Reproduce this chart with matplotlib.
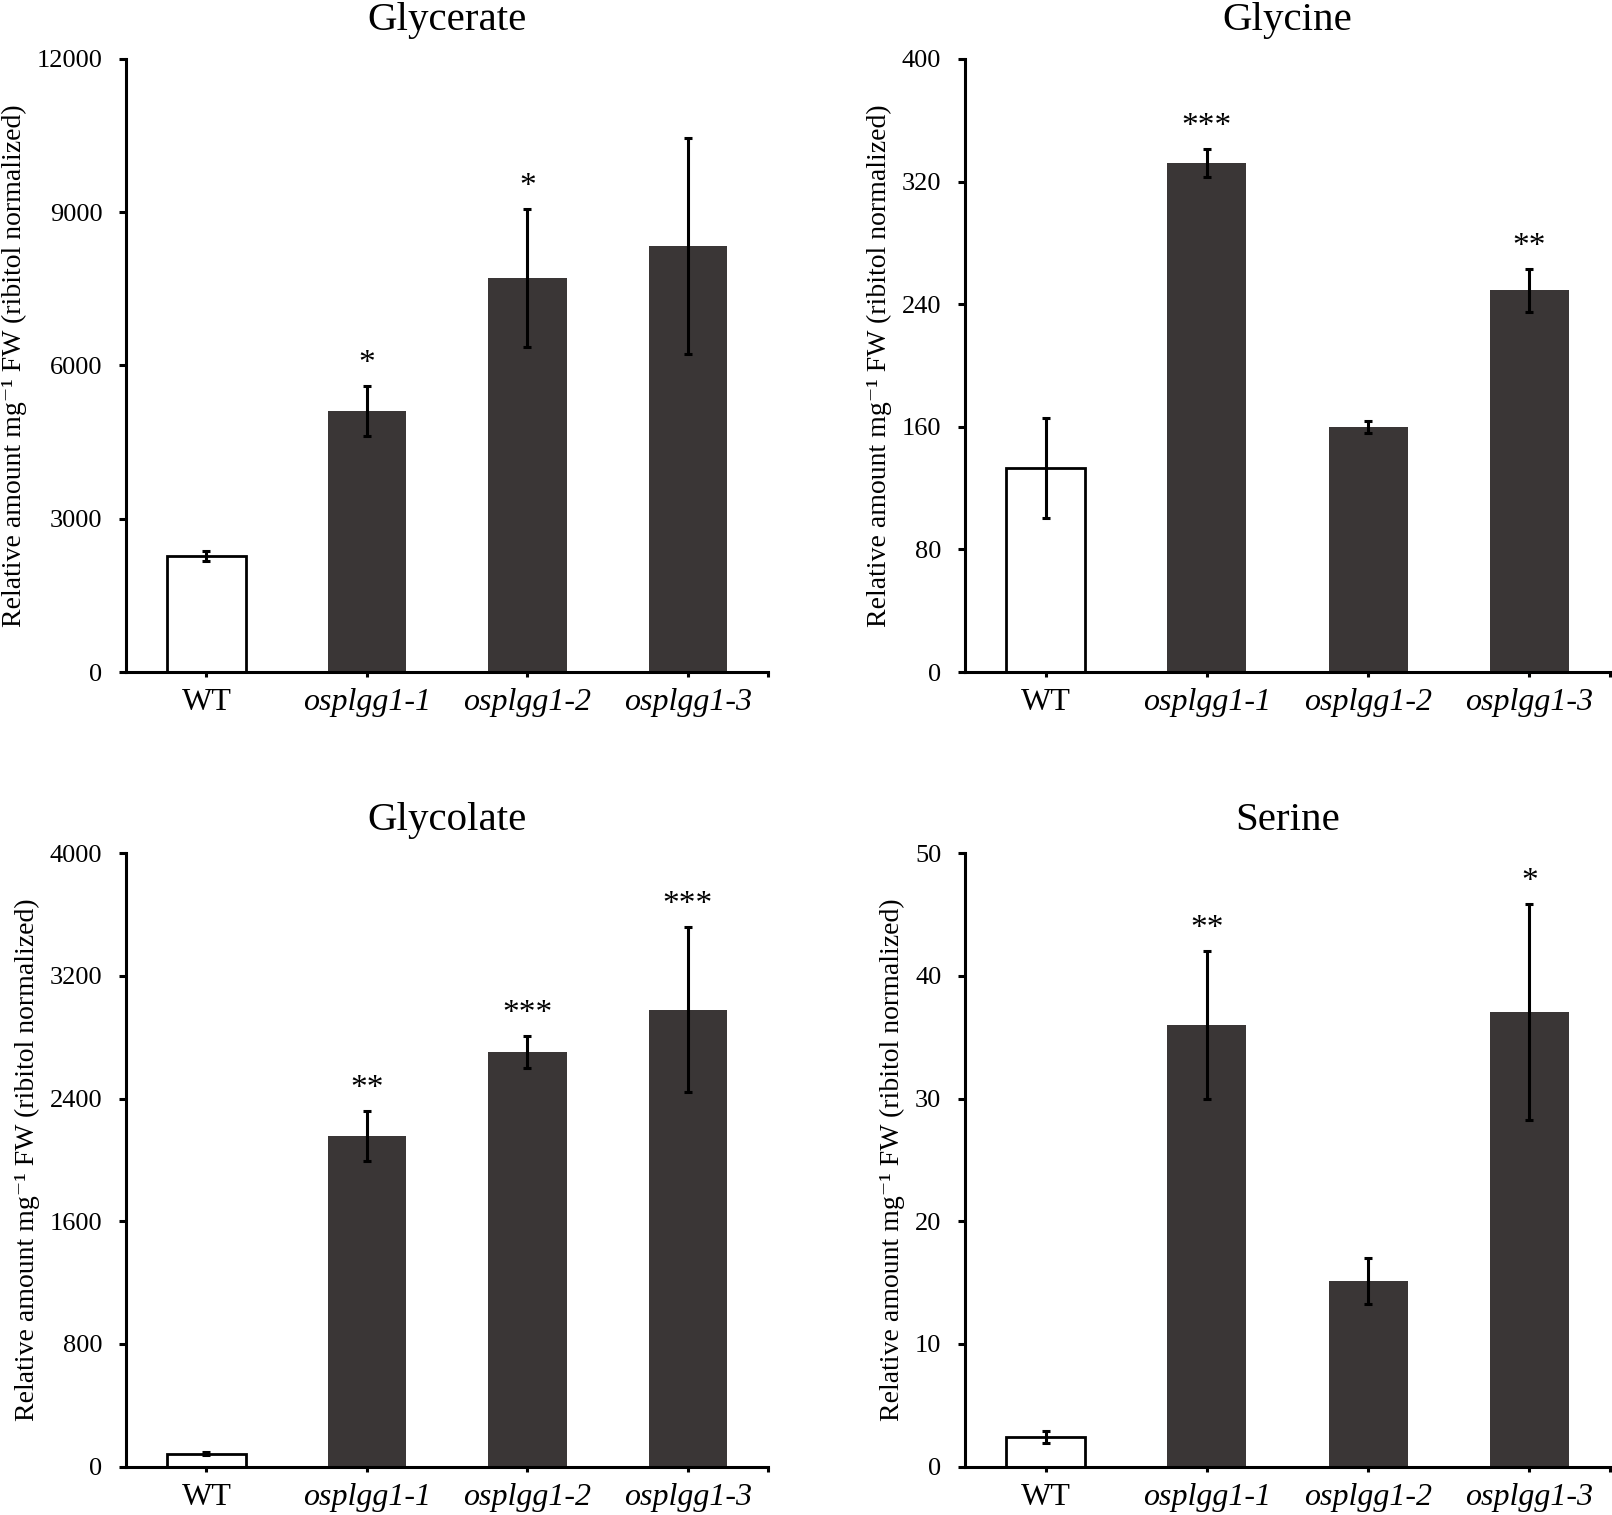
import matplotlib
matplotlib.use('Agg')
import matplotlib.pyplot as plt

plt.rcParams['font.family'] = ['Liberation Serif', 'DejaVu Serif']

genotypes = ['WT', 'osplgg1-1', 'osplgg1-2', 'osplgg1-3']

glycerate = [2270, 5110, 7710, 8340]
glycerate_err = [100, 485, 1350, 2120]
glycerate_sig = ['', '*', '*', '']

glycine = [133, 332, 160, 249]
glycine_err = [32.5, 9.3, 4, 13.8]
glycine_sig = ['', '***', '', '**']

glycolate = [85, 2155, 2705, 2980]
glycolate_err = [8, 165, 105, 540]
glycolate_sig = ['', '**', '***', '***']

serine = [2.4, 36.0, 15.15, 37.05]
serine_err = [0.47, 6.05, 1.87, 8.8]
serine_sig = ['', '**', '', '*']

panels = [
    ('Glycerate', glycerate, glycerate_err, glycerate_sig, 12000, 3000),
    ('Glycine', glycine, glycine_err, glycine_sig, 400, 80),
    ('Glycolate', glycolate, glycolate_err, glycolate_sig, 4000, 800),
    ('Serine', serine, serine_err, serine_sig, 50, 10),
]

# axes boxes in figure fractions [left, bottom, width, height]
boxes = [
    [0.0782, 0.5564, 0.3983, 0.4047],
    [0.5986, 0.5564, 0.4001, 0.4047],
    [0.0782, 0.0319, 0.3983, 0.4050],
    [0.5986, 0.0319, 0.4001, 0.4050],
]
title_pads = [21, 21, 16.5, 16.5]

dark = '#3a3636'
fig = plt.figure(figsize=(16.12, 15.15), dpi=100)

for (name, vals, errs, sig, ymax, step), box, tpad in zip(panels, boxes, title_pads):
    ax = fig.add_axes(box)
    x = list(range(len(genotypes)))
    colors = ['white'] + [dark] * 3
    edges = ['black'] + [dark] * 3
    ax.bar(x, vals, width=0.49, color=colors, edgecolor=edges,
           linewidth=[2.0, 0, 0, 0], zorder=2)
    ax.errorbar(x, vals, yerr=errs, fmt='none', ecolor='black',
                elinewidth=2.2, capsize=3, capthick=2.2, zorder=3)
    for xi, v, e, s in zip(x, vals, errs, sig):
        if s:
            ax.annotate(s, (xi, v + e), xytext=(0, 10), textcoords='offset points',
                        ha='center', va='baseline', fontsize=24)
    ax.set_xlim(-0.5, 3.5)
    ax.set_ylim(0, ymax)
    ax.set_yticks(range(0, ymax + 1, step))
    ax.set_xticks(x)
    ax.set_xticks([3.5], minor=True)
    ax.set_xticklabels(genotypes, fontsize=23)
    for lab in ax.get_xticklabels()[1:]:
        lab.set_style('italic')
    ax.tick_params(axis='y', labelsize=19, width=2.2, length=5, pad=12)
    ax.tick_params(axis='x', which='both', width=2.2, length=3.5, pad=8)
    for sp in ['top', 'right']:
        ax.spines[sp].set_visible(False)
    for sp in ['left', 'bottom']:
        ax.spines[sp].set_linewidth(2.2)
    ax.set_ylabel('Relative amount mg⁻¹ FW (ribitol normalized)', fontsize=20, labelpad=7)
    ax.set_title(name, fontsize=29.5, pad=tpad)

fig.savefig('out.png', dpi=100)
